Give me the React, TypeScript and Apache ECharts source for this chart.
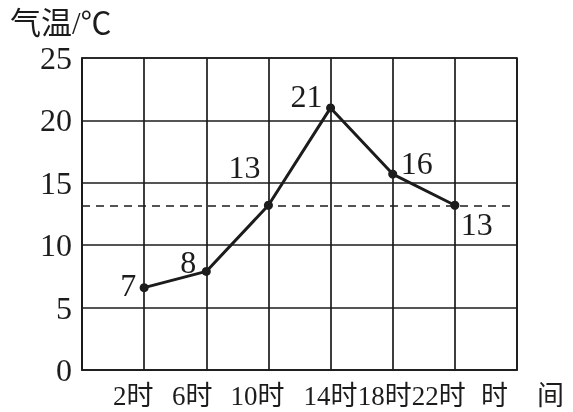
import * as echarts from 'echarts';
import { useEffect, useRef } from 'react';

const hours = ['2时', '6时', '10时', '14时', '18时', '22时'];
const temps = [6.6, 7.9, 13.2, 21, 15.7, 13.2];
const tempLabels = ['7', '8', '13', '21', '16', '13'];
const meanTemp = 13.2;
const yMin = 0;
const yMax = 25;
const yStep = 5;

const INK = '#1c1c1c';
const FONT = '"Liberation Serif", "Noto Sans CJK SC", serif';

// horizontal shift of each hour label (the scan sets them slightly left of the tick)
const hourLabelShift = [-11, -14, -11, 0, -8, -16];
// value label placement around each point: [dx, dy, align]
const labelPlace: Array<[number, number, 'left' | 'right']> = [
  [-8, -3, 'right'],
  [-10, -9, 'right'],
  [-8, -38, 'right'],
  [-8, -12, 'right'],
  [8, -11, 'left'],
  [6, 19, 'left'],
];

export default function App() {
  const ref = useRef<HTMLDivElement | null>(null);

  useEffect(() => {
    if (!ref.current) return undefined;
    const chart = echarts.init(ref.current, undefined, { renderer: 'svg' });

    // blank categories at both ends give the extra grid columns
    const categories = [
      { value: ' ' },
      ...hours.map((h, i) => ({
        value: h,
        textStyle: {
          padding: hourLabelShift[i] < 0 ? [0, -2 * hourLabelShift[i], 0, 0] : [0, 0, 0, 2 * hourLabelShift[i]],
        },
      })),
      { value: '  ' },
    ];

    const seriesData = [
      '-',
      ...temps.map((t, i) => {
        const [dx, dy, align] = labelPlace[i];
        return {
          value: t,
          label: {
            show: true,
            formatter: tempLabels[i],
            position: ['50%', '50%'],
            offset: [dx, dy],
            align,
            verticalAlign: 'middle',
          },
        };
      }),
      '-',
    ];

    chart.setOption({
      animation: false,
      title: {
        text: '气温/℃',
        left: 5,
        top: 3,
        textStyle: { fontSize: 31, fontWeight: 'normal', color: INK, fontFamily: FONT },
      },
      grid: {
        left: 82,
        right: 56,
        top: 58,
        bottom: 42,
        outerBoundsMode: 'none',
        containLabel: false,
        show: true,
        borderColor: INK,
        borderWidth: 1.7,
        backgroundColor: 'transparent',
      },
      // x-axis title, set below the axis end as in the source figure
      graphic: [
        {
          type: 'text',
          left: 481,
          top: 382,
          silent: true,
          style: {
            text: '{a|时}{b|间}',
            fill: INK,
            rich: {
              a: { fontSize: 27, lineHeight: 27, fontFamily: FONT, color: INK },
              b: { fontSize: 27, lineHeight: 27, fontFamily: FONT, color: INK, padding: [0, 0, 0, 29] },
            },
          },
        },
      ],
      xAxis: {
        type: 'category',
        boundaryGap: false,
        data: categories,
        axisLine: { lineStyle: { color: INK, width: 1.7 } },
        axisTick: { show: false },
        splitLine: { show: true, interval: 0, lineStyle: { color: INK, width: 1.7 } },
        axisLabel: {
          interval: 0,
          hideOverlap: false,
          color: INK,
          fontSize: 27,
          lineHeight: 27,
          fontFamily: FONT,
          margin: 12,
        },
      },
      yAxis: {
        type: 'value',
        min: yMin,
        max: yMax,
        interval: yStep,
        axisLine: { show: true, lineStyle: { color: INK, width: 1.7 } },
        axisTick: { show: false },
        splitLine: { show: true, lineStyle: { color: INK, width: 1.7 } },
        axisLabel: { color: INK, fontSize: 32, fontFamily: FONT, margin: 10 },
      },
      series: [
        {
          type: 'line',
          data: seriesData,
          symbol: 'circle',
          symbolSize: 9,
          itemStyle: { color: INK },
          lineStyle: { color: INK, width: 3 },
          label: { color: INK, fontSize: 32, fontFamily: FONT },
          markLine: {
            silent: true,
            symbol: 'none',
            label: { show: false },
            lineStyle: { color: INK, width: 1.7, type: [8, 6] },
            data: [{ yAxis: meanTemp }],
          },
        },
      ],
    });

    return () => chart.dispose();
  }, []);

  return <div ref={ref} style={{ position: 'fixed', left: 0, top: 0, width: 573, height: 412 }} />;
}
